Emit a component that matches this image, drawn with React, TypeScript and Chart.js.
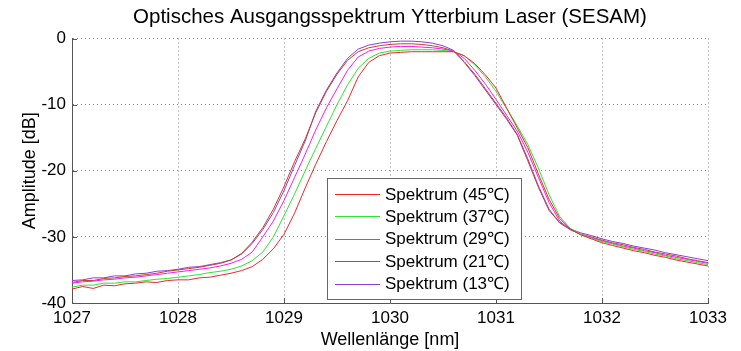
import React, { useEffect, useRef } from "react";
import { Chart, registerables } from "chart.js";

Chart.register(...registerables);

const FONT = "'Liberation Sans', Arial, Helvetica, sans-serif";

const titleText = "Optisches Ausgangsspektrum Ytterbium Laser (SESAM)";
const xAxisTitle = "Wellenlänge [nm]";
const yAxisTitle = "Amplitude [dB]";

const xTickValues = [1027, 1028, 1029, 1030, 1031, 1032, 1033];
const yTickValues = [-40, -30, -20, -10, 0];

const wavelengths = [
  1027.0, 1027.1, 1027.2, 1027.3, 1027.4, 1027.5, 1027.6, 1027.7, 1027.8, 1027.9,
  1028.0, 1028.1, 1028.2, 1028.3, 1028.4, 1028.5, 1028.6, 1028.7, 1028.8, 1028.9,
  1029.0, 1029.1, 1029.2, 1029.3, 1029.4, 1029.5, 1029.6, 1029.7, 1029.8, 1029.9,
  1030.0, 1030.1, 1030.2, 1030.3, 1030.4, 1030.5, 1030.6, 1030.7, 1030.8, 1030.9,
  1031.0, 1031.1, 1031.2, 1031.3, 1031.4, 1031.5, 1031.6, 1031.7, 1031.8, 1031.9,
  1032.0, 1032.1, 1032.2, 1032.3, 1032.4, 1032.5, 1032.6, 1032.7, 1032.8, 1032.9,
  1033.0,
];

const spec45 = [
  -37.9, -37.5, -37.8, -37.3, -37.4, -37.1, -37.0, -36.8, -36.9, -36.6,
  -36.5, -36.5, -36.2, -36.1, -35.8, -35.5, -35.1, -34.5, -33.4, -31.8,
  -29.6, -26.4, -22.6, -19.0, -15.6, -12.4, -9.4, -5.8, -3.6, -2.6,
  -2.2, -2.1, -2.0, -2.0, -2.0, -2.0, -2.0, -2.6, -3.8, -5.5,
  -7.5, -10.5, -13.5, -16.5, -20.5, -24.3, -27.2, -28.8, -29.7, -30.3,
  -30.9, -31.3, -31.7, -32.1, -32.4, -32.8, -33.1, -33.5, -33.8, -34.1,
  -34.4,
];

const spec37 = [
  -37.6, -37.3, -37.3, -37.0, -37.0, -36.8, -36.8, -36.6, -36.4, -36.3,
  -36.1, -35.9, -35.7, -35.4, -35.2, -34.9, -34.4, -33.6, -32.3, -30.0,
  -26.8, -23.5, -20.0, -16.6, -13.3, -10.0, -7.0, -4.5, -3.0, -2.2,
  -1.9, -1.8, -1.7, -1.7, -1.7, -1.8, -2.0, -2.6, -4.0, -5.8,
  -8.0, -10.6, -13.2, -16.0, -19.6, -23.6, -26.9, -28.7, -29.6, -30.2,
  -30.7, -31.1, -31.5, -31.9, -32.2, -32.6, -32.9, -33.3, -33.6, -33.9,
  -34.2,
];

const spec29 = [
  -37.0, -36.8, -36.7, -36.5, -36.4, -36.2, -36.1, -35.9, -35.7, -35.5,
  -35.3, -35.1, -34.9, -34.7, -34.4, -34.0, -33.4, -32.3, -30.0, -27.6,
  -24.5, -21.0, -17.5, -13.8, -10.5, -7.6, -4.8, -2.8, -1.9, -1.5,
  -1.3, -1.2, -1.2, -1.3, -1.4, -1.6, -1.9, -3.0, -4.8, -6.9,
  -9.2, -11.6, -14.0, -17.2, -21.0, -24.8, -27.6, -28.9, -29.6, -30.1,
  -30.6, -31.0, -31.4, -31.7, -32.1, -32.4, -32.8, -33.1, -33.4, -33.7,
  -34.0,
];

const spec21 = [
  -36.9, -36.6, -36.6, -36.3, -36.2, -36.0, -35.9, -35.7, -35.5, -35.2,
  -35.0, -34.8, -34.6, -34.3, -34.0, -33.5, -32.5, -30.8, -28.6, -25.8,
  -22.4, -18.6, -15.2, -11.2, -8.0, -5.4, -3.3, -2.0, -1.4, -1.1,
  -0.9, -0.8, -0.8, -0.9, -1.1, -1.4, -1.9, -3.5, -5.4, -7.6,
  -9.8, -12.0, -14.5, -18.2, -22.3, -25.8, -27.9, -28.9, -29.6, -30.0,
  -30.5, -30.9, -31.2, -31.6, -31.9, -32.3, -32.6, -32.9, -33.3, -33.6,
  -33.9,
];

const spec13 = [
  -36.6, -36.5, -36.2, -36.2, -35.9, -35.9, -35.6, -35.5, -35.2, -35.1,
  -34.9, -34.6, -34.5, -34.2, -33.9, -33.5, -32.6, -31.0, -28.9, -26.3,
  -23.0, -19.2, -15.5, -11.0, -7.8, -5.2, -3.0, -1.6, -1.0, -0.7,
  -0.5, -0.4, -0.4, -0.5, -0.7, -1.1, -1.8, -3.6, -5.6, -7.8,
  -10.0, -12.2, -14.6, -18.5, -22.5, -26.0, -27.8, -28.8, -29.4, -29.8,
  -30.3, -30.7, -31.0, -31.4, -31.7, -32.0, -32.4, -32.7, -33.0, -33.3,
  -33.6,
];

const seriesLabels = [
  "Spektrum (45℃)",
  "Spektrum (37℃)",
  "Spektrum (29℃)",
  "Spektrum (21℃)",
  "Spektrum (13℃)",
];
const seriesValues = [spec45, spec37, spec29, spec21, spec13];
const seriesColors = ["#f2262b", "#2ee52e", "#f21ef2", "#c8402c", "#8a3ed8"];

const titlePlugin = {
  id: "centeredTitle",
  afterDraw(chart: any) {
    const ctx = chart.ctx;
    const { left, right } = chart.chartArea;
    ctx.save();
    ctx.font = `20.5px ${FONT}`;
    ctx.fillStyle = "#000000";
    ctx.textAlign = "center";
    ctx.textBaseline = "middle";
    ctx.fillText(titleText, (left + right) / 2, 17);
    ctx.restore();
  },
};

const legendPlugin = {
  id: "boxLegend",
  afterDraw(chart: any) {
    const ctx = chart.ctx;
    const x0 = 327.5;
    const y0 = 178.5;
    const w = 194;
    const h = 121;
    ctx.save();
    ctx.fillStyle = "#ffffff";
    ctx.fillRect(x0, y0, w, h);
    ctx.strokeStyle = "#666666";
    ctx.lineWidth = 1;
    ctx.strokeRect(x0, y0, w, h);
    ctx.font = `17px ${FONT}`;
    ctx.textBaseline = "middle";
    ctx.textAlign = "left";
    chart.data.datasets.forEach((ds: any, i: number) => {
      const cy = 194 + i * 22.4;
      ctx.strokeStyle = ds.borderColor;
      ctx.lineWidth = 1;
      ctx.beginPath();
      ctx.moveTo(335, Math.round(cy) + 0.5);
      ctx.lineTo(380, Math.round(cy) + 0.5);
      ctx.stroke();
      ctx.fillStyle = "#000000";
      ctx.fillText(ds.label, 385, cy + 1);
    });
    ctx.restore();
  },
};

const inwardTicksPlugin = {
  id: "inwardTicks",
  afterDatasetsDraw(chart: any) {
    const ctx = chart.ctx;
    const { left, bottom } = chart.chartArea;
    const xs = chart.scales.x;
    const ys = chart.scales.y;
    ctx.save();
    ctx.strokeStyle = "#555555";
    ctx.lineWidth = 1;
    ctx.beginPath();
    xTickValues.forEach((v) => {
      const px = Math.round(xs.getPixelForValue(v)) + 0.5;
      ctx.moveTo(px, bottom);
      ctx.lineTo(px, bottom - 5);
    });
    yTickValues.forEach((v) => {
      const py = Math.round(ys.getPixelForValue(v)) + 0.5;
      ctx.moveTo(left, py);
      ctx.lineTo(left + 5, py);
    });
    ctx.stroke();
    ctx.restore();
  },
};

export default function App() {
  const canvasRef = useRef<HTMLCanvasElement | null>(null);

  useEffect(() => {
    document.body.style.margin = "0";
    const canvas = canvasRef.current;
    if (!canvas) return;
    const chart = new Chart(canvas, {
      type: "line",
      data: {
        datasets: seriesLabels.map((label, i) => ({
          label,
          data: wavelengths.map((w, j) => ({ x: w, y: seriesValues[i][j] })),
          borderColor: seriesColors[i],
          backgroundColor: seriesColors[i],
          borderWidth: 1,
          pointRadius: 0,
          tension: 0,
          fill: false,
        })),
      },
      options: {
        animation: false,
        responsive: false,
        devicePixelRatio: 1,
        layout: { padding: { left: 19, right: 33, top: 38.5, bottom: 0 } },
        plugins: {
          legend: { display: false },
          tooltip: { enabled: false },
          title: { display: false },
        },
        scales: {
          x: {
            type: "linear",
            min: 1027,
            max: 1033,
            afterBuildTicks: (scale: any) => {
              scale.ticks = xTickValues.map((v) => ({ value: v }));
            },
            afterFit: (scale: any) => {
              scale.height = 48;
            },
            ticks: {
              color: "#000000",
              font: { family: FONT, size: 17 },
              padding: 5,
              maxRotation: 0,
              autoSkip: false,
              callback: (v: any) => String(v),
            },
            grid: {
              color: "#8a8a8a",
              lineWidth: 1,
              drawTicks: false,
            },
            border: { display: true, color: "#555555", width: 1, dash: [1, 3] },
            title: {
              display: true,
              text: xAxisTitle,
              color: "#000000",
              font: { family: FONT, size: 18 },
              padding: { top: 0, bottom: 0 },
            },
          },
          y: {
            type: "linear",
            min: -40,
            max: 0,
            afterBuildTicks: (scale: any) => {
              scale.ticks = yTickValues.map((v) => ({ value: v }));
            },
            afterFit: (scale: any) => {
              scale.width = 53;
            },
            ticks: {
              color: "#000000",
              font: { family: FONT, size: 17 },
              padding: 6,
              autoSkip: false,
              callback: (v: any) => String(v),
            },
            grid: {
              color: "#8a8a8a",
              lineWidth: 1,
              drawTicks: false,
            },
            border: { display: true, color: "#555555", width: 1, dash: [1, 3] },
            title: {
              display: true,
              text: yAxisTitle,
              color: "#000000",
              font: { family: FONT, size: 18 },
              padding: { top: 0, bottom: 6 },
            },
          },
        },
      },
      plugins: [inwardTicksPlugin, legendPlugin, titlePlugin],
    } as any);
    return () => chart.destroy();
  }, []);

  return (
    <div style={{ position: "fixed", left: 0, top: 0, width: 741, height: 351, background: "#ffffff" }}>
      <canvas ref={canvasRef} width={741} height={351} style={{ display: "block" }} />
    </div>
  );
}
